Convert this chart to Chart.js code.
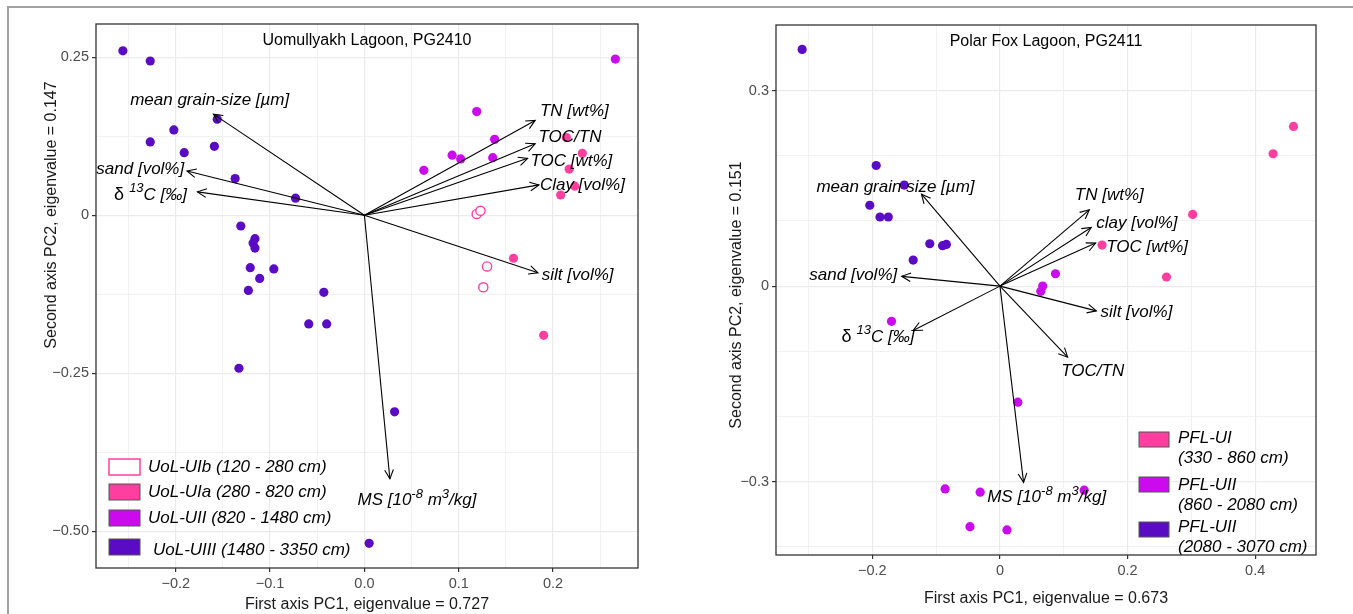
<!DOCTYPE html>
<html>
<head>
<meta charset="utf-8">
<script src="https://cdn.jsdelivr.net/npm/chart.js@4"></script>
<style>
  body { margin: 0; background: #fff; width: 1353px; height: 614px; overflow: hidden; position: relative; }
  .outer { position: absolute; left: 7px; top: 6px; width: 1360px; height: 620px; border-top: 2px solid #a0a0a0; border-left: 2px solid #a0a0a0; }
  canvas { position: absolute; top: 0; }
</style>
</head>
<body>
<div class="outer"></div>
<canvas id="uolChart" width="680" height="614" style="left:0"></canvas>
<canvas id="pflChart" width="673" height="614" style="left:680px"></canvas>
<script>
// ============================================================
// PCA biplots – Uomullyakh Lagoon (PG2410) & Polar Fox Lagoon (PG2411)
// ============================================================

const FONT = 'Arial, "Liberation Sans", sans-serif';
const PINK = '#ff3fa0';
const MAGENTA = '#cc0aee';
const PURPLE = '#5a0cc4';

// ----- Uomullyakh Lagoon sample scores -----
const uolUIbX = [0.119, 0.123, 0.130, 0.126];
const uolUIbY = [0.002, 0.007, -0.081, -0.114];
const uolUIaX = [0.214, 0.231, 0.217, 0.223, 0.208, 0.158, 0.190];
const uolUIaY = [0.123, 0.098, 0.073, 0.046, 0.032, -0.068, -0.190];
const uolUIIX = [0.119, 0.138, 0.093, 0.102, 0.136, 0.063, 0.266];
const uolUIIY = [0.164, 0.120, 0.095, 0.089, 0.091, 0.071, 0.247];
const uolUIIIX = [-0.256, -0.227, -0.202, -0.227, -0.191, -0.156, -0.159, -0.137, -0.073, -0.131, -0.116, -0.118,
                  -0.116, -0.121, -0.096, -0.111, -0.123, -0.043, -0.059, -0.040, -0.133, 0.032, 0.005];
const uolUIIIY = [0.260, 0.244, 0.135, 0.116, 0.099, 0.152, 0.109, 0.058, 0.027, -0.017, -0.037, -0.044,
                  -0.052, -0.083, -0.085, -0.100, -0.119, -0.122, -0.172, -0.172, -0.242, -0.311, -0.519];

// ----- Uomullyakh Lagoon variable loadings -----
const uolVars = ['mean grain-size [µm]', 'sand [vol%]', 'δ ^{13}C [‰]', 'TN [wt%]', 'TOC/TN',
                 'TOC [wt%]', 'Clay [vol%]', 'silt [vol%]', 'MS [10^{-8} m^{3}/kg]'];
const uolPC1 = [-0.160, -0.188, -0.177, 0.181, 0.181, 0.173, 0.185, 0.184, 0.027];
const uolPC2 = [0.160, 0.070, 0.037, 0.150, 0.113, 0.090, 0.048, -0.091, -0.417];
const uolLabelX = [-0.164, -0.191, -0.188, 0.186, 0.1845, 0.176, 0.186, 0.188, 0.0557];
const uolLabelY = [0.1826, 0.072, 0.032, 0.164, 0.1236, 0.085, 0.048, -0.0957, -0.451];
const uolLabelAlign = ['center', 'right', 'right', 'left', 'left', 'left', 'left', 'left', 'center'];

// ----- Uomullyakh axes -----
const uolXTicks = [-0.25, -0.2, -0.15, -0.1, -0.05, 0, 0.05, 0.1, 0.15, 0.2, 0.25];
const uolXMajor = [-0.2, -0.1, 0, 0.1, 0.2];
const uolXLabels = ['\u22120.2', '\u22120.1', '0.0', '0.1', '0.2'];
const uolYTicks = [-0.5, -0.375, -0.25, -0.125, 0, 0.125, 0.25];
const uolYMajor = [-0.5, -0.25, 0, 0.25];
const uolYLabels = ['\u22120.50', '\u22120.25', '0', '0.25'];

// ----- Polar Fox Lagoon sample scores -----
const pflUIX = [0.460, 0.428, 0.302, 0.160, 0.261];
const pflUIY = [0.245, 0.203, 0.110, 0.063, 0.014];
const pflUIIX = [0.087, 0.067, 0.064, -0.170, 0.028, -0.086, -0.031, 0.132, -0.047, 0.011];
const pflUIIY = [0.019, 0.000, -0.008, -0.054, -0.178, -0.311, -0.316, -0.313, -0.369, -0.374];
const pflUIIIX = [-0.310, -0.194, -0.150, -0.204, -0.188, -0.175, -0.110, -0.090, -0.084, -0.136];
const pflUIIIY = [0.363, 0.185, 0.155, 0.124, 0.106, 0.106, 0.065, 0.062, 0.064, 0.040];

// ----- Polar Fox Lagoon variable loadings -----
const pflVars = ['mean grain size [µm]', 'sand [vol%]', 'δ ^{13}C [‰]', 'TN [wt%]', 'clay [vol%]',
                 'TOC [wt%]', 'silt [vol%]', 'TOC/TN', 'MS [10^{-8} m^{3}/kg]'];
const pflPC1 = [-0.123, -0.154, -0.136, 0.140, 0.143, 0.150, 0.151, 0.106, 0.037];
const pflPC2 = [0.141, 0.015, -0.068, 0.117, 0.090, 0.066, -0.038, -0.109, -0.301];
const pflLabelX = [-0.1638, -0.161, -0.134, 0.1174, 0.151, 0.1664, 0.1577, 0.096, -0.020];
const pflLabelY = [0.1518, 0.016, -0.0777, 0.1387, 0.0968, 0.0598, -0.0406, -0.1303, -0.3246];
const pflLabelAlign = ['center', 'right', 'right', 'left', 'left', 'left', 'left', 'left', 'left'];

// ----- Polar Fox axes -----
const pflXTicks = [-0.3, -0.2, -0.1, 0, 0.1, 0.2, 0.3, 0.4];
const pflXMajor = [-0.2, 0, 0.2, 0.4];
const pflXLabels = ['\u22120.2', '0', '0.2', '0.4'];
const pflYTicks = [-0.4, -0.3, -0.2, -0.1, 0, 0.1, 0.2, 0.3];
const pflYMajor = [-0.3, 0, 0.3];
const pflYLabels = ['\u22120.3', '0', '0.3'];

const zip = (xs, ys) => xs.map((x, i) => ({ x, y: ys[i] }));
const near = (a, b) => Math.abs(a - b) < 1e-6;

// draw text with ^{...} superscripts; a leading δ is set upright
function drawRich(ctx, str, x, y, align, size) {
  const parts = str.split(/\^\{([^}]*)\}/);
  const segs = parts.map((t, i) => ({ t, sup: i % 2 === 1 })).filter(s => s.t.length);
  const fontOf = s => {
    if (s.sup) return `italic ${Math.round(size * 0.75)}px ${FONT}`;
    if (s.t.startsWith('δ')) return `${size + 1}px ${FONT}`;
    return `italic ${size}px ${FONT}`;
  };
  let w = 0;
  segs.forEach(s => { ctx.font = fontOf(s); s.w = ctx.measureText(s.t).width; w += s.w; });
  let cx = align === 'left' ? x : align === 'right' ? x - w : x - w / 2;
  ctx.textAlign = 'left';
  ctx.textBaseline = 'middle';
  segs.forEach(s => {
    ctx.font = fontOf(s);
    ctx.fillText(s.t, cx, s.sup ? y - size * 0.38 : y);
    cx += s.w;
  });
}

function drawArrow(ctx, x0, y0, x1, y1) {
  ctx.beginPath();
  ctx.moveTo(x0, y0);
  ctx.lineTo(x1, y1);
  ctx.stroke();
  const a = Math.atan2(y1 - y0, x1 - x0), L = 10, h = Math.PI / 7;
  ctx.beginPath();
  ctx.moveTo(x1 - L * Math.cos(a - h), y1 - L * Math.sin(a - h));
  ctx.lineTo(x1, y1);
  ctx.lineTo(x1 - L * Math.cos(a + h), y1 - L * Math.sin(a + h));
  ctx.stroke();
}

function makeBiplot(id, p) {
  const biplot = {
    id: 'biplot_' + id,
    afterDatasetsDraw(chart) {
      const { ctx, chartArea: ca, scales: { x, y } } = chart;
      ctx.save();
      // loadings arrows
      ctx.strokeStyle = '#000';
      ctx.lineWidth = 1.1;
      const ox = x.getPixelForValue(0), oy = y.getPixelForValue(0);
      p.pc1.forEach((v, i) => drawArrow(ctx, ox, oy, x.getPixelForValue(v), y.getPixelForValue(p.pc2[i])));
      ctx.fillStyle = '#000';
      p.vars.forEach((t, i) => drawRich(ctx, t, x.getPixelForValue(p.lx[i]), y.getPixelForValue(p.ly[i]), p.la[i], 17));
      // panel title
      ctx.font = `16px ${FONT}`;
      ctx.fillStyle = '#000';
      ctx.textAlign = 'center';
      ctx.textBaseline = 'middle';
      ctx.fillText(p.title, (ca.left + ca.right) / 2, ca.top + 17);
      // legend
      p.legend.forEach(e => {
        ctx.fillStyle = e.fill;
        ctx.fillRect(ca.left + e.bx, ca.bottom + e.by, e.bw, e.bh);
        ctx.strokeStyle = e.stroke;
        ctx.lineWidth = e.fill === '#ffffff' ? 1.5 : 1;
        ctx.strokeRect(ca.left + e.bx, ca.bottom + e.by, e.bw, e.bh);
        ctx.fillStyle = '#000';
        ctx.font = `italic 17px ${FONT}`;
        ctx.textAlign = 'left';
        ctx.textBaseline = 'middle';
        e.lines.forEach((l, k) => ctx.fillText(l, ca.left + e.tx, ca.bottom + e.ty + k * 20));
      });
      // panel border
      ctx.strokeStyle = '#333';
      ctx.lineWidth = 1.3;
      ctx.strokeRect(ca.left, ca.top, ca.right - ca.left, ca.bottom - ca.top);
      // y axis title
      ctx.save();
      ctx.translate(p.yTitleX, p.yTitleY);
      ctx.rotate(-Math.PI / 2);
      ctx.font = `16px ${FONT}`;
      ctx.fillStyle = '#1a1a1a';
      ctx.textAlign = 'center';
      ctx.textBaseline = 'middle';
      ctx.fillText(p.yTitle, 0, 0);
      ctx.restore();
      ctx.restore();
    }
  };

  const axis = (ticks, major, labels, extra) => ({
    type: 'linear',
    afterBuildTicks: s => { s.ticks = ticks.map(v => ({ value: v })); },
    ticks: {
      autoSkip: false, maxRotation: 0, color: '#4d4d4d', font: { size: 14.5, family: FONT },
      padding: 3,
      callback: v => { const k = major.findIndex(m => near(m, v)); return k >= 0 ? labels[k] : ''; }
    },
    grid: {
      color: '#ebebeb',
      lineWidth: c => major.some(m => near(m, c.tick.value)) ? 1.2 : 0.7,
      tickLength: 4,
      tickColor: c => major.some(m => near(m, c.tick.value)) ? '#333' : 'rgba(0,0,0,0)'
    },
    border: { display: false },
    ...extra
  });

  const mkSet = (xs, ys, color, open) => ({
    data: zip(xs, ys),
    pointRadius: 4.6,
    pointBackgroundColor: open ? '#ffffff' : color,
    pointBorderColor: color,
    pointBorderWidth: open ? 1.4 : 0,
    showLine: false
  });

  return new Chart(document.getElementById(id), {
    type: 'scatter',
    data: { datasets: p.sets.map(s => mkSet(s[0], s[1], s[2], s[3])) },
    options: {
      responsive: false,
      animation: false,
      layout: { padding: p.pad },
      plugins: { legend: { display: false }, tooltip: { enabled: false } },
      scales: {
        x: axis(p.xTicks, p.xMajor, p.xLabels, {
          min: p.xMin, max: p.xMax,
          afterFit: s => { s.height = p.xH; },
          title: { display: true, text: p.xTitle, color: '#1a1a1a', font: { size: 16, family: FONT }, padding: { top: 0, bottom: p.xTitlePad } }
        }),
        y: axis(p.yTicks, p.yMajor, p.yLabels, {
          min: p.yMin, max: p.yMax,
          afterFit: s => { s.width = 96; }
        })
      }
    },
    plugins: [biplot]
  });
}

makeBiplot('uolChart', {
  title: 'Uomullyakh Lagoon, PG2410',
  xTitle: 'First axis PC1, eigenvalue = 0.727',
  yTitle: 'Second axis PC2, eigenvalue = 0.147',
  yTitleX: 52, yTitleY: 215,
  xMin: -0.2845, xMax: 0.29, yMin: -0.558, yMax: 0.3025,
  xTicks: uolXTicks, xMajor: uolXMajor, xLabels: uolXLabels,
  yTicks: uolYTicks, yMajor: uolYMajor, yLabels: uolYLabels,
  pad: { left: 0, top: 24, right: 42, bottom: 0 }, xH: 46, xTitlePad: 0,
  sets: [
    [uolUIIIX, uolUIIIY, PURPLE, false],
    [uolUIIX, uolUIIY, MAGENTA, false],
    [uolUIaX, uolUIaY, PINK, false],
    [uolUIbX, uolUIbY, PINK, true]
  ],
  vars: uolVars, pc1: uolPC1, pc2: uolPC2, lx: uolLabelX, ly: uolLabelY, la: uolLabelAlign,
  legend: [
    { fill: '#ffffff', stroke: PINK, bx: 13, by: -109, bw: 31, bh: 16, tx: 52, ty: -101, lines: ['UoL-UIb (120 - 280 cm)'] },
    { fill: PINK, stroke: '#555', bx: 13, by: -84, bw: 31, bh: 16, tx: 52, ty: -76, lines: ['UoL-UIa (280 - 820 cm)'] },
    { fill: MAGENTA, stroke: '#555', bx: 13, by: -58, bw: 31, bh: 16, tx: 52, ty: -50, lines: ['UoL-UII (820 - 1480 cm)'] },
    { fill: PURPLE, stroke: '#555', bx: 13, by: -29, bw: 31, bh: 16, tx: 57, ty: -18, lines: ['UoL-UIII (1480 - 3350 cm)'] }
  ]
});

makeBiplot('pflChart', {
  title: 'Polar Fox Lagoon, PG2411',
  xTitle: 'First axis PC1, eigenvalue = 0.673',
  yTitle: 'Second axis PC2, eigenvalue = 0.151',
  yTitleX: 57, yTitleY: 295,
  xMin: -0.351, xMax: 0.4953, yMin: -0.4124, yMax: 0.4005,
  xTicks: pflXTicks, xMajor: pflXMajor, xLabels: pflXLabels,
  yTicks: pflYTicks, yMajor: pflYMajor, yLabels: pflYLabels,
  pad: { left: 0, top: 25, right: 37, bottom: 0 }, xH: 59, xTitlePad: 6,
  sets: [
    [pflUIIIX, pflUIIIY, PURPLE, false],
    [pflUIIX, pflUIIY, MAGENTA, false],
    [pflUIX, pflUIY, PINK, false]
  ],
  vars: pflVars, pc1: pflPC1, pc2: pflPC2, lx: pflLabelX, ly: pflLabelY, la: pflLabelAlign,
  legend: [
    { fill: PINK, stroke: '#555', bx: 363, by: -123, bw: 30, bh: 15, tx: 402, ty: -117, lines: ['PFL-UI', '(330 - 860 cm)'] },
    { fill: MAGENTA, stroke: '#555', bx: 363, by: -78, bw: 30, bh: 15, tx: 402, ty: -70, lines: ['PFL-UII', '(860 - 2080 cm)'] },
    { fill: PURPLE, stroke: '#555', bx: 363, by: -33, bw: 30, bh: 15, tx: 402, ty: -28, lines: ['PFL-UII', '(2080 - 3070 cm)'] }
  ]
});
</script>
</body>
</html>
